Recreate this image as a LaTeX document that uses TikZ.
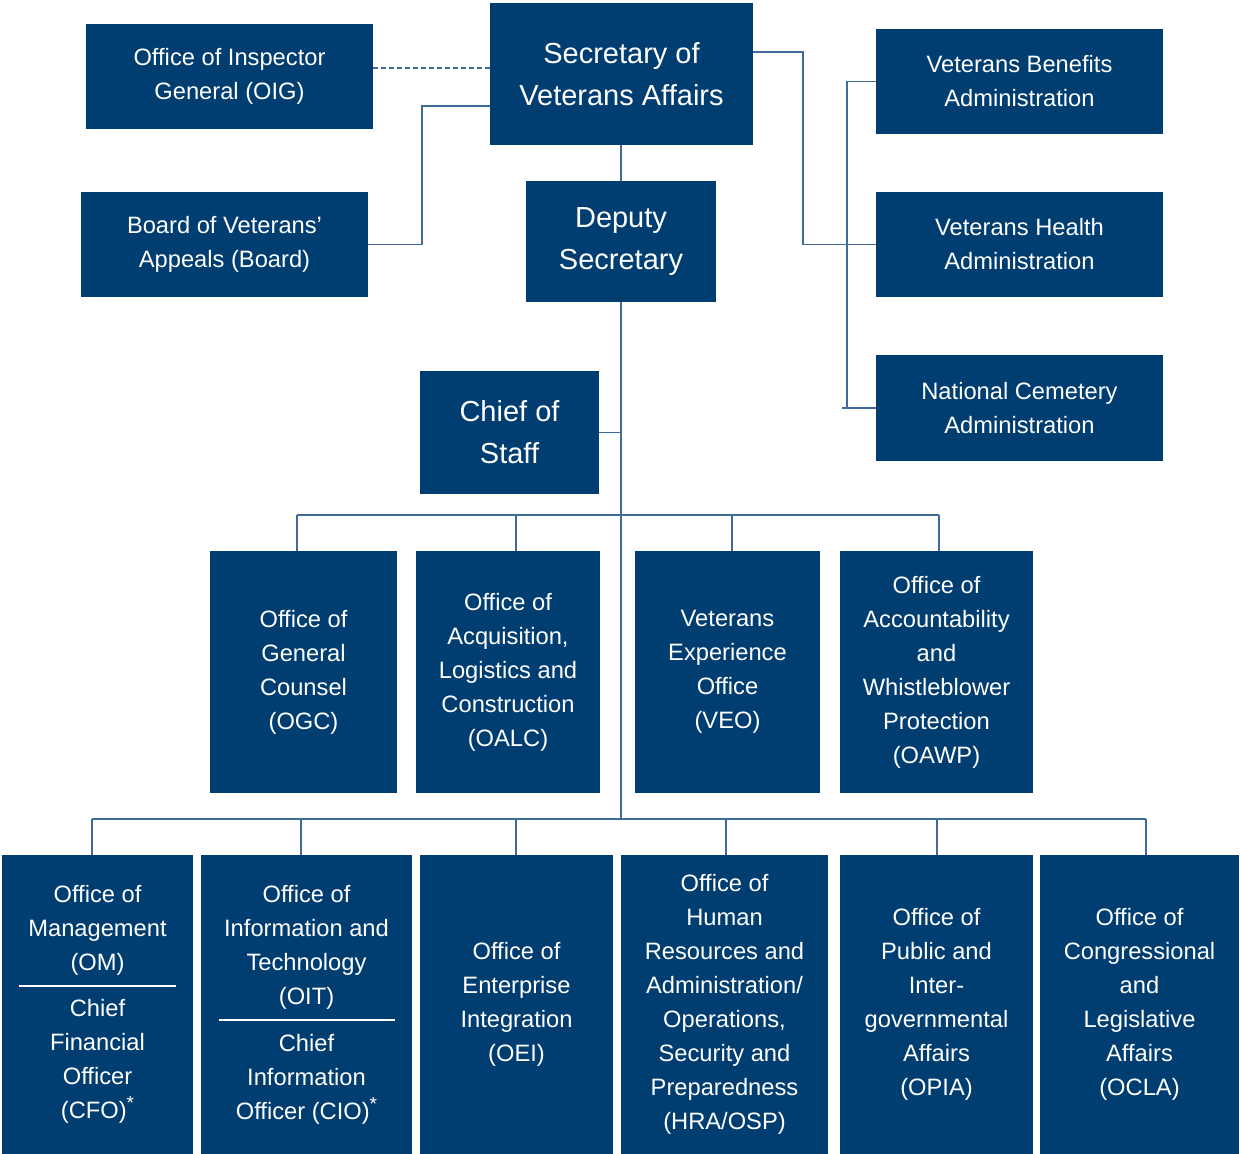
\documentclass[tikz,border=0pt]{standalone}
\usepackage{fontspec}
\setmainfont{Liberation Sans}
\usetikzlibrary{calc}

\definecolor{vanavy}{RGB}{0,61,112}
\definecolor{valine}{RGB}{62,107,153}

\newcommand{\fnstar}{\raisebox{9pt}{\fontsize{19}{19}\selectfont*}}

\begin{document}
\begin{tikzpicture}[x=1pt, y=-1pt,
  box/.style={rectangle, fill=vanavy, text=white, align=center, inner sep=0pt,
    font=\fontsize{23.7}{34}\selectfont},
  bigbox/.style={box, font=\fontsize{29}{42}\selectfont},
  link/.style={draw=valine, line width=1.6pt},
  divider/.style={draw=white, line width=1.2pt}]

\useasboundingbox (0,0) rectangle (1240,1154);

% Top level
\node[bigbox, minimum width=263, minimum height=142] (sec) at (621.5, 74) {Secretary of\\Veterans Affairs};
\node[box, minimum width=287, minimum height=105] (oig) at (229.5, 76.5) {Office of Inspector\\General (OIG)};
\node[box, minimum width=287, minimum height=105] (board) at (224.5, 244.5) {Board of Veterans’\\Appeals (Board)};
\node[bigbox, minimum width=190, minimum height=121] (dep) at (621, 241.5) {Deputy\\Secretary};
\node[box, minimum width=287, minimum height=105] (vba) at (1019.5, 81.5) {Veterans Benefits\\Administration};
\node[box, minimum width=287, minimum height=105] (vha) at (1019.5, 244.5) {Veterans Health\\Administration};
\node[box, minimum width=287, minimum height=106] (nca) at (1019.5, 408) {National Cemetery\\Administration};
\node[bigbox, minimum width=179, minimum height=123] (cos) at (509.5, 432.5) {Chief of\\Staff};

% Second row
\node[box, minimum width=187, minimum height=242] (ogc) at (303.5, 672) {Office of\\General\\Counsel\\(OGC)};
\node[box, minimum width=184, minimum height=242] (oalc) at (508, 672) {Office of\\Acquisition,\\Logistics and\\Construction\\(OALC)};
\node[box, minimum width=185, minimum height=242] (veo) at (727.5, 672) {Veterans\\Experience\\Office\\(VEO)};
\node[box, minimum width=193, minimum height=242] (oawp) at (936.5, 672) {Office of\\Accountability\\and\\Whistleblower\\Protection\\(OAWP)};

% Third row
\node[box, minimum width=191, minimum height=299] (om) at (97.5, 1004.5) {Office of\\Management\\(OM)\\[12pt]Chief\\Financial\\Officer\\(CFO)\fnstar};
\node[box, minimum width=211, minimum height=299] (oit) at (306.5, 1004.5) {Office of\\Information and\\Technology\\(OIT)\\[13pt]Chief\\Information\\Officer (CIO)\fnstar};
\node[box, minimum width=193, minimum height=299] (oei) at (516.5, 1004.5) {Office of\\Enterprise\\Integration\\(OEI)};
\node[box, minimum width=207, minimum height=299] (hra) at (724.5, 1004.5) {Office of\\Human\\Resources and\\Administration/\\Operations,\\Security and\\Preparedness\\(HRA/OSP)};
\node[box, minimum width=193, minimum height=299] (opia) at (936.5, 1004.5) {Office of\\Public and\\Inter-\\governmental\\Affairs\\(OPIA)};
\node[box, minimum width=199, minimum height=299] (ocla) at (1139.5, 1004.5) {Office of\\Congressional\\and\\Legislative\\Affairs\\(OCLA)};

\draw[divider] (19, 986) -- (176, 986);
\draw[divider] (219, 1020) -- (395, 1020);

% Connectors
\coordinate (bj) at (422, 106);
\coordinate (hj) at (803, 52);
\coordinate (vj) at (847, 0);
\coordinate (b2) at (0, 515);
\coordinate (b3) at (0, 819);

\draw[link, dashed, dash pattern=on 5pt off 3pt] ([yshift=8.5pt]oig.east) -- ([yshift=8.5pt]oig.east -| sec.west);
\draw[link] (sec.west |- bj) -- (bj) |- (board.east);
\draw[link] (sec.east |- hj) -- (hj) |- (vha.west);
\draw[link] (vba.west) -| (vj |- nca.west) -- ([xshift=-5pt]vj |- nca.west);
\draw[link] (vj |- nca.west) -- (nca.west);
\draw[link] (dep.north |- sec.south) -- (dep.north);
\draw[link] (dep.south) -- (dep.south |- b3);
\draw[link] (cos.east) -- (cos.east -| dep.south);

\draw[link] ([xshift=-6.5pt]ogc.north |- b2) -- ([xshift=2.5pt]oawp.north |- b2);
\foreach \n/\dx in {ogc/-6.5, oalc/8, veo/4.5, oawp/2.5} {
  \draw[link] ([xshift=\dx pt]\n.north) -- ([xshift=\dx pt]\n.north |- b2);
}
\draw[link] ([xshift=-5.5pt]om.north |- b3) -- ([xshift=6.5pt]ocla.north |- b3);
\foreach \n/\dx in {om/-5.5, oit/-5.5, oei/-0.5, hra/1.5, opia/0.5, ocla/6.5} {
  \draw[link] ([xshift=\dx pt]\n.north) -- ([xshift=\dx pt]\n.north |- b3);
}

\end{tikzpicture}
\end{document}
